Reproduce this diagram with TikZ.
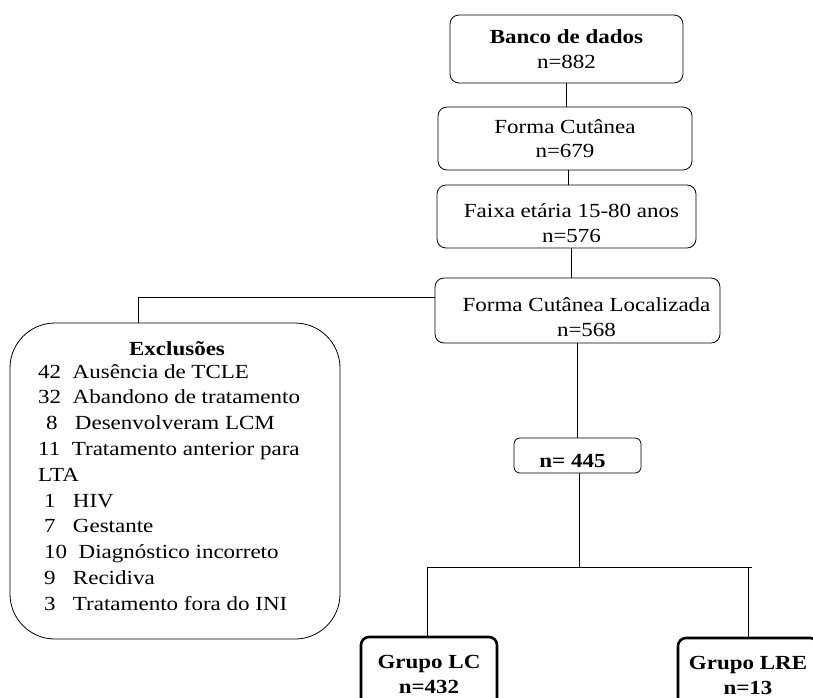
\documentclass[tikz,border=0pt]{standalone}
\usepackage{fontspec}
\setmainfont{Liberation Serif}[FakeStretch=1.15]
\usetikzlibrary{calc}

\begin{document}
\begin{tikzpicture}[x=1pt, y=1pt,
		every node/.style={font=\fontsize{20}{24.5}\selectfont},
		caixa/.style={draw, rounded corners=9pt, line width=0.8pt, align=center, inner sep=0pt},
		grupo/.style={draw, rounded corners=8pt, line width=2.6pt, align=center, inner sep=0pt, font=\fontsize{20}{25}\selectfont\bfseries},
		linha/.style={line width=0.8pt}]
		%%%%% START %%%%%
		
		\clip (0, 0) rectangle (813, -697);
		
		\node[caixa, minimum width=233, minimum height=68] (banco) at (566.5, -49) {\textbf{Banco de dados}\\n=882};
		\node[caixa, minimum width=254, minimum height=63] (cutanea) at (565, -138.5) {Forma Cutânea\\n=679};
		\node[caixa, minimum width=259, minimum height=63] (faixa) at (566.5, -216.5) {\rule{0pt}{27pt}\hspace*{10pt}Faixa etária 15-80 anos\\\hspace*{10pt}n=576};
		\node[caixa, minimum width=285, minimum height=65] (local) at (577.5, -310.5) {\rule{0pt}{27pt}\hspace*{18pt}Forma Cutânea Localizada\\\hspace*{18pt}n=568};
		\node[caixa, rounded corners=6pt, minimum width=127, minimum height=35] (total) at (577.5, -455.5) {\rule{0pt}{25pt}\textbf{n= 445}\hspace*{10pt}};
		
		\node[grupo, minimum width=136, minimum height=74] (lc) at (429, -674) {Grupo LC\\n=432};
		\node[grupo, minimum width=140, minimum height=74] (lre) at (748, -675) {Grupo LRE\\n=13};
		
		% exclusoes
		\node[draw, rounded corners=45pt, line width=0.8pt, minimum width=330, minimum height=316, inner sep=0pt] (excl) at (175, -481) {};
		\node[anchor=base] (titulo) at (177, -355) {\textbf{Exclusões}};
		\node[anchor=north west, align=left, inner sep=0pt, font=\fontsize{20}{25.8}\selectfont] (lista) at (38, -364) {42~~Ausência de TCLE\\
			32~~Abandono de tratamento\\
			\hspace*{.4em}8~~~Desenvolveram LCM\\
			11~~Tratamento anterior para\\
			LTA\\
			\hspace*{.3em}1~~~HIV\\
			\hspace*{.3em}7~~~Gestante\\
			\hspace*{.3em}10~~Diagnóstico incorreto\\
			\hspace*{.3em}9~~~Recidiva\\
			\hspace*{.3em}3~~~Tratamento fora do INI};
		
		\draw[linha] (banco.south) -- (banco.south |- cutanea.north);
		\draw[linha] ([xshift=3]cutanea.south) -- ([xshift=3]cutanea.south |- faixa.north);
		\draw[linha] ([xshift=5]faixa.south) -- ([xshift=5]faixa.south |- local.north);
		\draw[linha] ($(local.north west)!0.3!(local.south west)$) -| ([xshift=-37]excl.north);
		\draw[linha] (local.south) -- (local.south |- total.north);
		
		\coordinate (ramo) at (579, -567);
		\draw[linha] ([xshift=1.5]total.south) -- (ramo);
		\draw[linha] ([xshift=-2]lc.north |- ramo) -- ([xshift=4]lre.north |- ramo);
		\draw[linha] ([xshift=-2]lc.north |- ramo) -- ([xshift=-2]lc.north);
		\draw[linha] (lre.north |- ramo) -- (lre.north);
		
		%%%%% END %%%%%
	\end{tikzpicture}
\end{document}
